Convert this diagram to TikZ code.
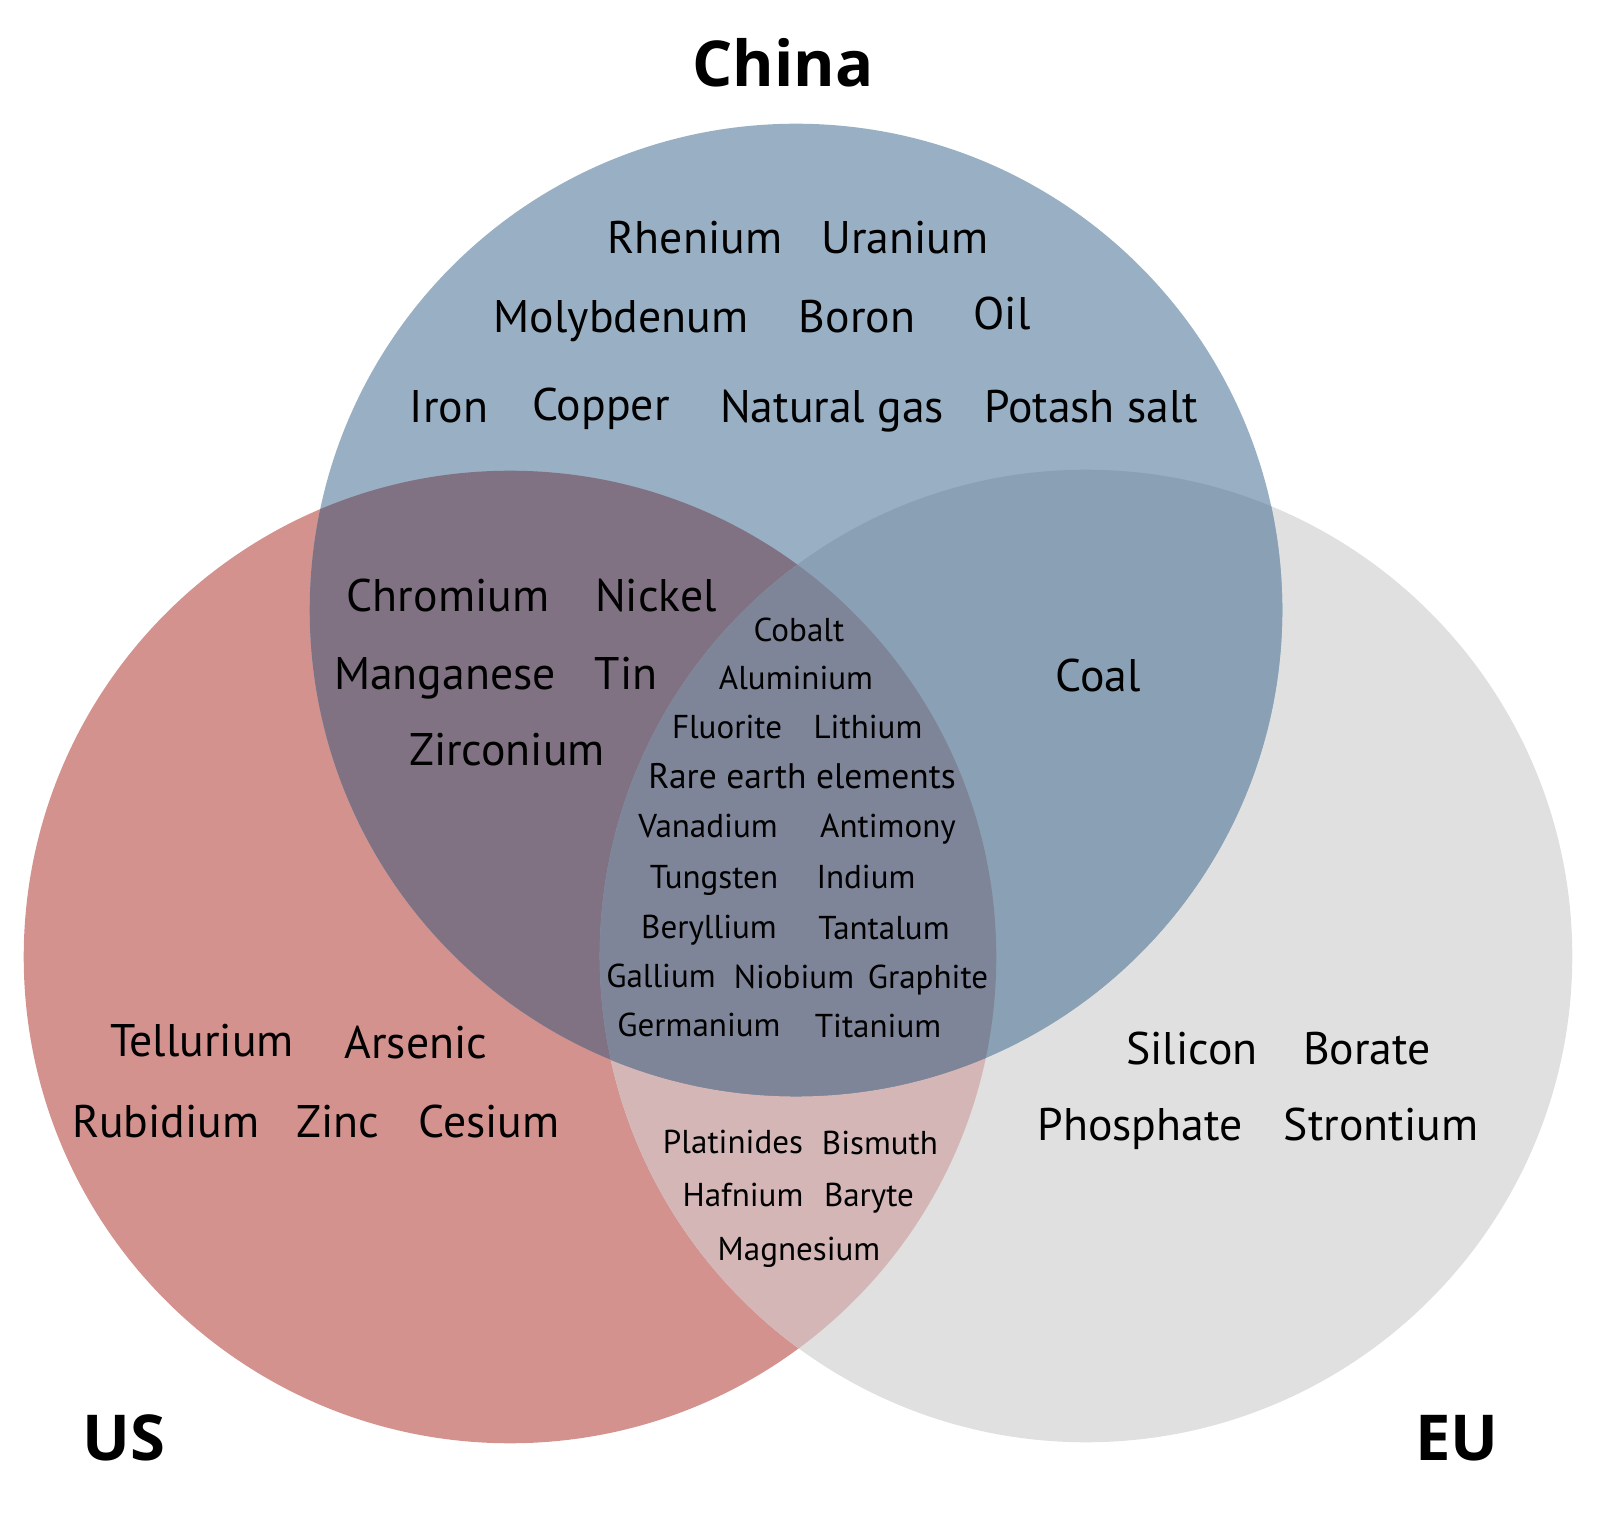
\documentclass[tikz,border=0pt]{standalone}
\usepackage{fontspec}
\setmainfont{PT Sans}
\newfontfamily\titlefont{Open Sans}
\usepackage{tikz}
\usetikzlibrary{positioning}

\definecolor{chinaC}{HTML}{99B0C4}
\definecolor{usC}{HTML}{D4928F}
\definecolor{euC}{HTML}{E0E0E0}
\definecolor{chinausC}{HTML}{807283}
\definecolor{chinaeuC}{HTML}{8AA1B5}
\definecolor{useuC}{HTML}{D4B6B7}
\definecolor{allC}{HTML}{7F8598}

\begin{document}
\begin{tikzpicture}[
    x=0.01cm, y=-0.01cm,
    big/.style={inner sep=0pt, text height=9.1pt, text depth=0pt, font=\fontsize{13}{15}\selectfont},
    small/.style={inner sep=0pt, text height=6.6pt, text depth=0pt, font=\fontsize{9.4}{11}\selectfont},
    title/.style={inner sep=0pt, text height=12.9pt, text depth=0pt, font=\titlefont\bfseries\fontsize{18}{21}\selectfont}
]
\useasboundingbox (0,0) rectangle (1600,1513);

% Circle centres
\coordinate (cn) at (796,610);
\coordinate (us) at (510,957);
\coordinate (eu) at (1086,956);

% Base circles
\fill[usC] (us) circle[radius=4.86cm];
\fill[euC] (eu) circle[radius=4.86cm];
\fill[chinaC] (cn) circle[radius=4.86cm];

% Overlaps
\begin{scope}
  \clip (us) circle[radius=4.86cm];
  \fill[useuC] (eu) circle[radius=4.86cm];
  \fill[chinausC] (cn) circle[radius=4.86cm];
\end{scope}
\begin{scope}
  \clip (eu) circle[radius=4.86cm];
  \fill[chinaeuC] (cn) circle[radius=4.86cm];
\end{scope}
\begin{scope}
  \clip (us) circle[radius=4.86cm];
  \clip (eu) circle[radius=4.86cm];
  \fill[allC] (cn) circle[radius=4.86cm];
\end{scope}

% Titles
\node[title] (china) at (783,64) {China};
\node[title] (usa) at (124,1438) {US};
\node[title] (europe) at (1457,1438) {EU};

% China only
\node[big] (rhenium) at (695,238) {Rhenium};
\node[big] (uranium) at (905,238) {Uranium};
\node[big] (molyb) at (621,317) {Molybdenum};
\node[big] (boron) at (857,317) {Boron};
\node[big] (oil) at (1002,314) {Oil};
\node[big] (iron) at (449,407) {Iron};
\node[big] (copper) at (601,405) {Copper};
\node[big] (natgas) at (832,407) {Natural gas};
\node[big] (potash) at (1091,407) {Potash salt};

% China and US
\node[big] (chromium) at (448,596) {Chromium};
\node[big] (nickel) at (656,596) {Nickel};
\node[big] (manganese) at (445,674) {Manganese};
\node[big] (tin) at (626,674) {Tin};
\node[big] (zirconium) at (507,750) {Zirconium};

% China and EU
\node[big] (coal) at (1098,676) {Coal};

% All three
\node[small] (cobalt) at (799,630) {Cobalt};
\node[small] (aluminium) at (796,678) {Aluminium};
\node[small] (fluorite) at (727,727) {Fluorite};
\node[small] (lithium) at (868,727) {Lithium};
\node[small, text height=7.1pt, font=\fontsize{10.1}{12}\selectfont] (rareearth) at (802,776) {Rare earth elements};
\node[small] (vanadium) at (708,826) {Vanadium};
\node[small] (antimony) at (888,826) {Antimony};
\node[small] (tungsten) at (714,877) {Tungsten};
\node[small] (indium) at (866,877) {Indium};
\node[small] (beryllium) at (709,927) {Beryllium};
\node[small] (tantalum) at (884,928) {Tantalum};
\node[small] (gallium) at (661,976) {Gallium};
\node[small] (niobium) at (794,977) {Niobium};
\node[small] (graphite) at (928,977) {Graphite};
\node[small] (germanium) at (699,1025) {Germanium};
\node[small] (titanium) at (878,1026) {Titanium};

% US only
\node[big] (tellurium) at (202,1040) {Tellurium};
\node[big] (arsenic) at (416,1042) {Arsenic};
\node[big] (rubidium) at (166,1121) {Rubidium};
\node[big] (zinc) at (338,1121) {Zinc};
\node[big] (cesium) at (489,1121) {Cesium};

% US and EU
\node[small] (platinides) at (733,1142) {Platinides};
\node[small] (bismuth) at (880,1143) {Bismuth};
\node[small] (hafnium) at (743,1195) {Hafnium};
\node[small] (baryte) at (869,1195) {Baryte};
\node[small] (magnesium) at (799,1249) {Magnesium};

% EU only
\node[big] (silicon) at (1192,1048) {Silicon};
\node[big] (borate) at (1367,1048) {Borate};
\node[big] (phosphate) at (1140,1124) {Phosphate};
\node[big] (strontium) at (1381,1124) {Strontium};

\end{tikzpicture}
\end{document}
